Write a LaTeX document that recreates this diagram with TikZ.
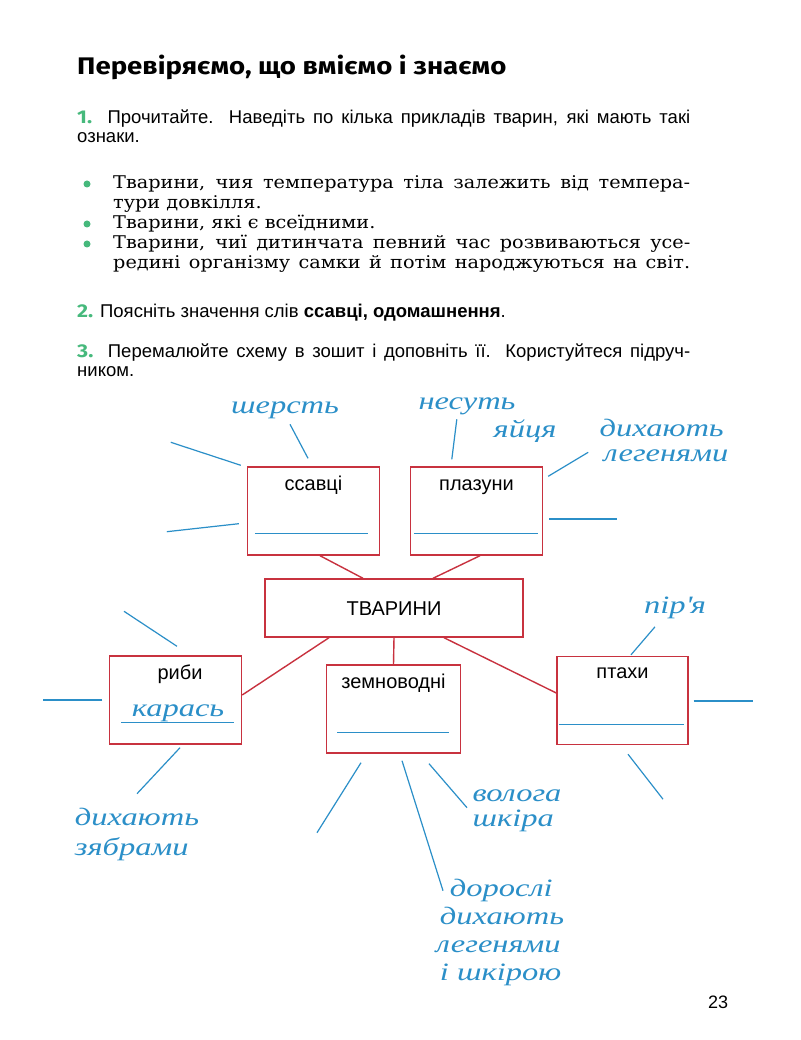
\documentclass[tikz,border=0pt]{standalone}
\usepackage{fontspec}
\setmainfont{Liberation Serif}
\setsansfont{Liberation Sans}
\newfontfamily\headfont{Fira Sans}[FakeStretch=1.15]
\newfontfamily\bodyserif{DejaVu Serif}[FakeStretch=1.1]
\newfontfamily\handfont{Liberation Serif}[FakeStretch=1.3]
\usetikzlibrary{calc}

\definecolor{boxred}{HTML}{C8323F}
\definecolor{inkblue}{HTML}{2B8FC8}
\definecolor{numgreen}{HTML}{46B97C}
\newcommand\tasknum[1]{{\headfont\bfseries\color{numgreen}#1}}

\begin{document}
\begin{tikzpicture}[x=1pt,y=-1pt,
  para/.style={anchor=base west,inner sep=0pt,font=\sffamily\fontsize{18.5}{18.5}\selectfont},
  item/.style={anchor=base west,inner sep=0pt,font=\bodyserif\fontsize{17.5}{17.5}\selectfont},
  dot/.style={circle,fill=numgreen,inner sep=0pt,minimum size=7pt},
  box/.style={draw=boxred,line width=1.4pt,minimum width=132pt,minimum height=88pt,inner sep=0pt},
  kind/.style={anchor=base,inner sep=0pt,font=\sffamily\fontsize{20}{20}\selectfont},
  link/.style={draw=boxred,line width=1.4pt},
  answer/.style={draw=inkblue,line width=1.2pt},
  hand/.style={text=inkblue,inner sep=0pt,align=left,font=\handfont\itshape\fontsize{25}{25}\selectfont}]
  \useasboundingbox[fill=white] (0,0) rectangle (800,1040);

  % tasks
  \node[anchor=base west,inner sep=0pt] (title) at (77,75)
    {\headfont\bfseries\fontsize{24}{24}\selectfont Перевіряємо, що вміємо і знаємо};
  \node[para] (task1) at (77,124) {\makebox[613pt][s]{\tasknum{1.} Прочитайте. Наведіть по кілька прикладів тварин, які мають такі}};
  \node[para] (task1b) at (77,143) {ознаки.};
  \node[dot] (dot1) at (87,184) {};
  \node[dot] (dot2) at (87,224) {};
  \node[dot] (dot3) at (87,244) {};
  \node[item] (item1) at (113,189) {\makebox[577pt][s]{Тварини, чия температура тіла залежить від темпера-}};
  \node[item] (item1b) at (113,209) {тури довкілля.};
  \node[item] (item2) at (113,229) {Тварини, які є всеїдними.};
  \node[item] (item3) at (113,249) {\makebox[577pt][s]{Тварини, чиї дитинчата певний час розвиваються усе-}};
  \node[item] (item3b) at (113,269) {\makebox[577pt][s]{редині організму самки й потім народжуються на світ.}};
  \node[para] (task2) at (77,317) {\tasknum{2.} Поясніть значення слів \textbf{ссавці, одомашнення}.};
  \node[para] (task3) at (77,357) {\makebox[613pt][s]{\tasknum{3.} Перемалюйте схему в зошит і доповніть її. Користуйтеся підруч-}};
  \node[para] (task3b) at (77,376) {ником.};

  % scheme
  \node[box,minimum width=258pt,minimum height=58pt] (tvaryny) at (394,608) {};
  \node[box] (ssavci) at (313.5,511) {};
  \node[box] (plazuny) at (476.5,511) {};
  \node[box] (ryby) at (175.5,700) {};
  \node[box,minimum width=134pt] (zemnovodni) at (393.5,709) {};
  \node[box,minimum width=131pt] (ptahy) at (622.5,700.5) {};

  \node[kind] (tvaryny-t) at ($(tvaryny.north)+(0,37)$) {ТВАРИНИ};
  \node[kind] (ssavci-t) at ($(ssavci.north)+(0,24)$) {ссавці};
  \node[kind] (plazuny-t) at ($(plazuny.north)+(0,24)$) {плазуни};
  \node[kind] (ryby-t) at ($(ryby.north)+(4.5,24)$) {риби};
  \node[kind] (zemnovodni-t) at ($(zemnovodni.north)+(0,24)$) {земноводні};
  \node[kind] (ptahy-t) at ($(ptahy.north)+(0,23)$) {птахи};

  \draw[link] ($(ssavci.south)+(6.5,0)$) -- ($(tvaryny.north)+(-31,0)$);
  \draw[link] ($(plazuny.south)+(3.5,0)$) -- ($(tvaryny.north)+(39,0)$);
  \draw[link] ($(tvaryny.south)+(-65,0)$) -- ($(ryby.east)+(0,-5)$);
  \draw[link] (tvaryny.south) -- (zemnovodni.north);
  \draw[link] ($(tvaryny.south)+(50,0)$) -- ($(ptahy.west)+(0,-7.5)$);

  % lines to fill in
  \draw[answer] ($(ssavci.south west)+(8,-22)$) -- ($(ssavci.south east)+(-12,-22)$);
  \draw[answer] ($(plazuny.south west)+(4,-22)$) -- ($(plazuny.south east)+(-5,-22)$);
  \draw[answer] ($(ryby.south west)+(12.5,-22)$) -- ($(ryby.south east)+(-8.5,-22)$);
  \draw[answer] ($(zemnovodni.south west)+(11.5,-21)$) -- ($(zemnovodni.south east)+(-12.5,-21)$);
  \draw[answer] ($(ptahy.south west)+(3,-21)$) -- ($(ptahy.south east)+(-5,-21)$);

  \draw[answer] ($(ssavci.north west)+(-6,-1)$) -- ++(-70,-23);
  \draw[answer] ($(ssavci.south west)+(-8,-32)$) -- ++(-72,8);
  \draw[answer] ($(ssavci.north)+(-5.5,-8)$) -- ++(-18,-34);
  \draw[answer] ($(plazuny.north west)+(42,-7)$) -- ++(5,-40);
  \draw[answer] ($(plazuny.north east)+(5,10)$) -- ++(40,-24);
  \draw[answer] ($(plazuny.east)+(6,8)$) -- ++(68,0);
  \draw[answer] ($(ryby.north)+(1.5,-9)$) -- ++(-53,-35);
  \draw[answer] ($(ryby.west)+(-6.5,0)$) -- ++(-59,0);
  \draw[answer] ($(ryby.south)+(4.5,3)$) -- ++(-43,46);
  \draw[answer] ($(zemnovodni.south)+(-32.5,9)$) -- ++(-44,70);
  \draw[answer] ($(zemnovodni.south)+(8.5,7)$) -- ++(41,130);
  \draw[answer] ($(zemnovodni.south)+(35.5,10)$) -- ++(38,44);
  \draw[answer] ($(ptahy.north)+(8.5,-1)$) -- ++(24,-28);
  \draw[answer] ($(ptahy.east)+(5,0.5)$) -- ++(59,0);
  \draw[answer] ($(ptahy.south)+(5.5,9)$) -- ++(35,45);

  % handwritten answers
  \node[hand] (fur) at (285,410) {шерсть};
  \node[hand] (eggs1) at (467,406) {несуть};
  \node[hand] (eggs2) at (525,431) {яйця};
  \node[hand] (lungs) at (664,440) {дихають\\\hspace*{4pt}легенями};
  \node[hand] (feathers) at (675,608) {пір\textquotesingle я};
  \node[hand] (carp) at (178,713) {карась};
  \node[hand,font=\handfont\itshape\fontsize{25}{30}\selectfont] (gills) at (137,834) {дихають\\зябрами};
  \node[hand] (skin) at (517,811) {волога\\шкіра};
  \node[hand,font=\handfont\itshape\fontsize{25}{28}\selectfont] (adults) at (500,932) {\hspace*{14pt}дорослі\\\hspace*{4pt}дихають\\легенями\\\hspace*{4pt}і шкірою};

  \node[anchor=base,inner sep=0pt,font=\sffamily\fontsize{18}{18}\selectfont] (page) at (718,1008) {23};
\end{tikzpicture}
\end{document}
